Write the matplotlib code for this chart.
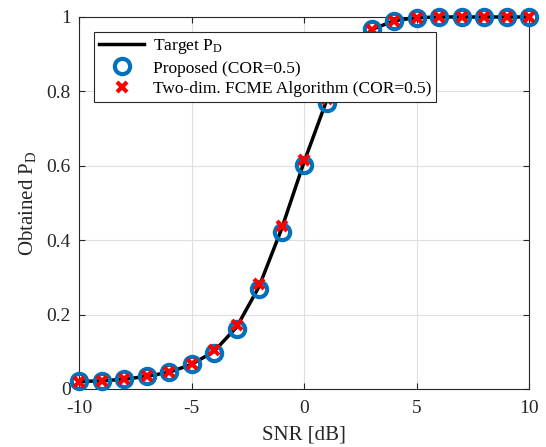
import matplotlib
matplotlib.use("Agg")
import matplotlib.pyplot as plt

plt.rcParams['font.family'] = ['Liberation Serif', 'DejaVu Serif']
plt.rcParams['mathtext.fontset'] = 'custom'
plt.rcParams['mathtext.rm'] = 'Liberation Serif'
plt.rcParams['mathtext.it'] = 'Liberation Serif:italic'
plt.rcParams['axes.unicode_minus'] = False

snr = [-10, -9, -8, -7, -6, -5, -4, -3, -2, -1, 0, 1, 2, 3, 4, 5, 6, 7, 8, 9, 10]
target = [0.02, 0.022, 0.026, 0.034, 0.045, 0.066, 0.101, 0.166, 0.275, 0.43, 0.61, 0.775, 0.9, 0.966, 0.99, 0.998, 1.0, 1.0, 1.0, 1.0, 1.0]
proposed = [0.021, 0.022, 0.027, 0.034, 0.045, 0.066, 0.098, 0.162, 0.269, 0.422, 0.603, 0.77, 0.9, 0.968, 0.99, 0.998, 1.0, 1.0, 1.0, 1.0, 1.0]
fcme = [0.02, 0.021, 0.026, 0.034, 0.046, 0.066, 0.105, 0.171, 0.281, 0.437, 0.616, 0.78, 0.9, 0.965, 0.99, 0.998, 1.0, 1.0, 1.0, 1.0, 1.0]

fig = plt.figure(figsize=(5.46, 4.47), dpi=100)
ax = fig.add_axes([0.1447, 0.1298, 0.8243, 0.8322])

ax.plot(snr, target, color='black', lw=2.5, label=r'Target P$_\mathrm{D}$', zorder=3, clip_on=False)
ax.plot(snr, proposed, linestyle='none', marker='o', ms=11, mfc='none', mec='#0072BD', mew=3,
        label='Proposed (COR=0.5)', zorder=4, clip_on=False)
ax.plot(snr, fcme, linestyle='none', marker='x', ms=7.5, mec='#FF0000', mew=3,
        label='Two-dim. FCME Algorithm (COR=0.5)', zorder=5, clip_on=False)

ax.set_xlim(-10, 10)
ax.set_ylim(0, 1)
ax.set_xticks([-10, -5, 0, 5, 10])
ax.set_yticks([0, 0.2, 0.4, 0.6, 0.8, 1])
ax.set_yticklabels(['0', '0.2', '0.4', '0.6', '0.8', '1'])
ax.grid(True, color='#DFDFDF', lw=0.8)
ax.set_axisbelow(True)
ax.tick_params(direction='in', labelsize=14, top=True, right=True, length=4, color='#262626', labelcolor='#262626')
ax.tick_params(axis='x', pad=8)
ax.tick_params(axis='y', pad=6)
for s in ax.spines.values():
    s.set_color('#262626')
    s.set_linewidth(0.8)

ax.set_xlabel('SNR [dB]', fontsize=15, color='#262626', labelpad=6)
ax.set_ylabel(r'Obtained P$_\mathrm{D}$', fontsize=15, color='#262626', labelpad=6)

leg = ax.legend(loc='upper left', bbox_to_anchor=(0.033, 0.96), fontsize=12.5, frameon=True,
                fancybox=False, edgecolor='#262626', framealpha=1, borderpad=0.3,
                handlelength=2.6, handletextpad=0.5, labelspacing=0.25, borderaxespad=0)
leg.get_frame().set_linewidth(0.8)
leg.set_zorder(10)

fig.savefig('out.png', dpi=100)
